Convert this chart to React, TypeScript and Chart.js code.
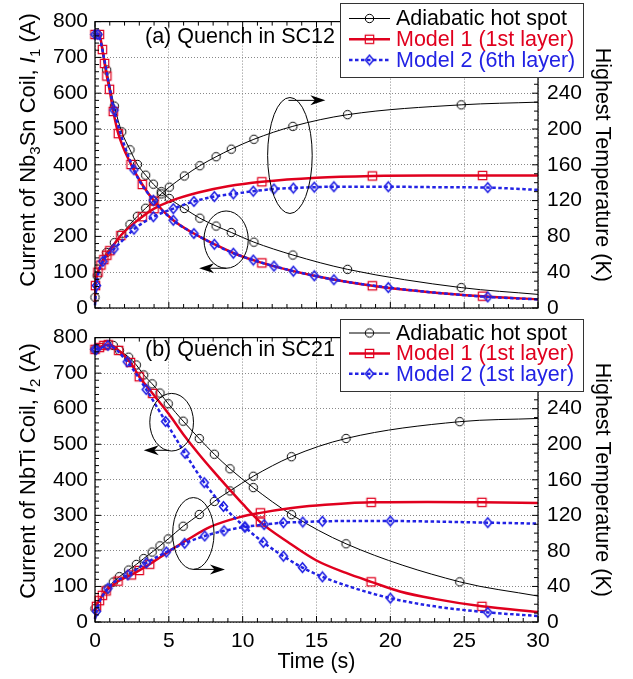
import React, { useEffect, useRef } from 'react';
import { Chart, registerables } from 'chart.js';
Chart.register(...registerables);

const FONT = '"Liberation Sans", Arial, Helvetica, sans-serif';
const RED = '#e0001e';
const BLUE = '#2222e4';

// ---------- axes ----------
const TIME_MAX = 30, TIME_STEP = 5, TIME_MINOR = 1;
const CUR_MAX = 800, CUR_STEP = 100, CUR_MINOR = 20;
const TEMP_MAX = 320, TEMP_STEP = 40, TEMP_MINOR = 10, TEMP_LABEL_MAX = 240;

// ---------- panel (a): quench in SC12 ----------
const aHotCurT = [0, 0.15, 0.45, 0.79, 1.31, 1.81, 2.37, 2.87, 3.43, 3.95, 4.49, 5.03, 6.05, 7.1, 8.2, 9.23, 10.76, 13.4, 17.1, 24.8, 30];
const aHotCurI = [765, 764, 740, 665, 564, 492, 442, 401, 371, 346, 325, 306, 278, 251, 229, 211, 184, 148, 108, 57, 38];
const aHotCurM = [0, 1, 0, 1, 1, 1, 1, 1, 1, 1, 1, 1, 1, 1, 1, 1, 1, 1, 1, 1, 0];

const aHotTmpT = [0, 0.15, 0.45, 0.79, 1.31, 1.81, 2.37, 2.87, 3.43, 3.95, 4.49, 5.03, 6.05, 7.1, 8.2, 9.23, 10.76, 13.4, 17.1, 24.8, 30];
const aHotTmpK = [12, 36, 52, 62, 73, 83, 93.5, 102.5, 111.5, 119.5, 127.5, 135, 147.5, 159, 169, 177.5, 188.5, 203, 216, 227, 230];
const aHotTmpM = [1, 1, 0, 1, 1, 1, 1, 1, 1, 1, 1, 1, 1, 1, 1, 1, 1, 1, 1, 1, 0];

const aM1CurT = [0, 0.3, 0.5, 0.65, 0.8, 0.98, 1.24, 1.58, 2.44, 3.2, 4.0, 5.3, 6.7, 8.1, 9.4, 11.3, 14.85, 18.78, 22.5, 26.25, 30];
const aM1CurI = [764, 764, 722, 683, 648, 611, 549, 487, 401, 345, 299, 245, 208, 178, 153, 126, 90, 62, 45, 33, 24];
const aM1CurM = [1, 1, 1, 1, 1, 1, 1, 1, 1, 1, 1, 0, 0, 0, 0, 1, 0, 1, 0, 1, 0];

const aM1TmpT = [0, 0.03, 0.2, 0.4, 0.6, 0.8, 1.0, 1.75, 3.2, 4.0, 5.2, 7.0, 9.0, 11.3, 15.0, 18.78, 22.5, 26.25, 30];
const aM1TmpK = [6, 25, 40, 48, 54, 59, 64, 81, 102, 111, 120, 129, 136, 141, 145.5, 147.5, 148, 148, 148];
const aM1TmpM = [0, 1, 1, 1, 1, 1, 1, 1, 1, 1, 0, 0, 0, 1, 0, 1, 0, 1, 0];

const aM2CurT = [0, 0.2, 0.6, 1.29, 2.64, 3.95, 5.3, 6.7, 8.08, 9.37, 10.72, 12.12, 13.43, 14.85, 16.18, 19.86, 23, 26.6, 30];
const aM2CurI = [764, 764, 700, 553, 386, 301, 245, 208, 178, 153, 134, 117, 103, 90, 79, 57, 43, 31, 24];
const aM2CurM = [1, 1, 0, 1, 1, 1, 1, 1, 1, 1, 1, 1, 1, 1, 1, 1, 0, 1, 0];

const aM2TmpT = [0, 0.1, 0.53, 1.29, 1.9, 2.64, 3.95, 5.3, 6.7, 8.08, 9.37, 10.72, 12.12, 13.43, 14.85, 16.18, 19.86, 23, 26.6, 30];
const aM2TmpK = [3, 25, 52, 66, 76, 88, 102, 111, 119, 124.5, 127.5, 130.5, 133, 134, 135, 135.5, 135.5, 135, 134.5, 132];
const aM2TmpM = [0, 1, 1, 1, 0, 1, 1, 1, 1, 1, 1, 1, 1, 1, 1, 1, 1, 0, 1, 0];

// ---------- panel (b): quench in SC21 ----------
const bHotCurT = [0, 0.79, 1.24, 1.65, 2.28, 2.8, 3.3, 3.87, 4.4, 4.96, 5.97, 7.06, 8.08, 9.14, 10.72, 13.3, 17.0, 24.7, 30];
const bHotCurI = [767, 780, 778, 764, 745, 723, 695, 670, 644, 614, 565, 516, 472, 431, 378, 302, 220, 113, 73];
const bHotCurM = [1, 1, 1, 1, 1, 1, 1, 1, 1, 1, 1, 1, 1, 1, 1, 1, 1, 1, 0];

const bHotTmpT = [0, 0.79, 1.24, 1.65, 2.28, 2.8, 3.3, 3.87, 4.4, 4.96, 5.97, 7.06, 8.08, 9.14, 10.72, 13.3, 17.0, 24.7, 30];
const bHotTmpK = [15, 37, 45, 51, 58.5, 64.8, 71.4, 78.7, 85.7, 93.5, 107.8, 121, 135.7, 147.5, 164, 186, 206.5, 225.4, 229];
const bHotTmpM = [1, 1, 1, 1, 1, 1, 1, 1, 1, 1, 1, 1, 1, 1, 1, 1, 1, 1, 0];

const bM1CurT = [0, 0.3, 0.6, 0.9, 1.6, 2.4, 3.0, 3.9, 5.0, 6.0, 7.0, 8.0, 9.0, 10.0, 11.2, 13.2, 15.0, 17.0, 18.7, 20.65, 23, 26.2, 30];
const bM1CurI = [767, 772, 778, 780, 764, 730, 690, 643, 585, 527, 474, 425, 378, 332, 281, 221, 173, 138, 113, 86, 65, 44, 28];
const bM1CurM = [1, 1, 1, 1, 1, 1, 1, 1, 0, 0, 0, 0, 0, 0, 1, 0, 0, 0, 1, 0, 0, 1, 0];

const bM1TmpT = [0, 0.1, 0.3, 0.5, 0.75, 1.56, 2.46, 3.0, 3.7, 5.0, 6.4, 7.8, 9.8, 11.2, 13.2, 15.0, 18.7, 22.5, 26.2, 30];
const bM1TmpK = [4, 17.6, 24, 30, 35, 46, 53, 58, 65, 79.5, 94, 107, 118, 122.8, 128, 131, 134.6, 135, 134.6, 134];
const bM1TmpM = [0, 1, 1, 1, 1, 1, 1, 1, 1, 0, 0, 0, 0, 1, 0, 0, 1, 0, 1, 0];

const bM2CurT = [0, 0.1, 0.88, 2.18, 3.47, 4.78, 6.1, 7.4, 8.7, 10.15, 11.4, 12.76, 14.05, 15.4, 17.5, 20.0, 23, 26.6, 30];
const bM2CurI = [767, 767, 778, 732, 654, 564, 474, 392, 325, 267, 224, 185, 153, 127, 96, 67, 44, 27, 17];
const bM2CurM = [1, 1, 1, 1, 1, 1, 1, 1, 1, 1, 1, 1, 1, 1, 0, 1, 0, 1, 0];

const bM2TmpT = [0, 0.1, 0.88, 2.23, 3.48, 4.83, 6.07, 7.43, 8.74, 10.15, 11.45, 12.76, 14.07, 15.4, 17.5, 20.0, 23, 26.6, 30];
const bM2TmpK = [3, 12, 38, 53, 66.5, 78.7, 88.6, 96.8, 102.6, 107, 109.6, 111.8, 112.5, 113.3, 113.6, 113.6, 113, 111.8, 110.7];
const bM2TmpM = [0, 1, 1, 1, 1, 1, 1, 1, 1, 1, 1, 1, 1, 1, 0, 1, 0, 1, 0];

// ---------- labels ----------
const aLegend = ['Adiabatic hot spot', 'Model 1 (1st layer)', 'Model 2 (6th layer)'];
const bLegend = ['Adiabatic hot spot', 'Model 1 (1st layer)', 'Model 2 (1st layer)'];
const aTitle = '(a) Quench in SC12';
const bTitle = '(b) Quench in SC21';
const aYTitle = [{ t: 'Current of Nb' }, { t: '3', sub: true }, { t: 'Sn Coil, ' }, { t: 'I', it: true }, { t: '1', sub: true }, { t: ' (A)' }];
const bYTitle = [{ t: 'Current of NbTi Coil, ' }, { t: 'I', it: true }, { t: '2', sub: true }, { t: ' (A)' }];
const xTitle = 'Time (s)';
const y2Title = 'Highest Temperature (K)';

// annotation ellipses (time, current) and arrows (from -> to), in data units
const aEllipses = [{ t: 13.2, v: 426, rt: 1.51, rv: 162 }, { t: 8.88, v: 191, rt: 1.5, rv: 80 }];
const aArrows = [{ t0: 13.1, v0: 580, t1: 15.6, v1: 580 }, { t0: 8.9, v0: 111, t1: 7.05, v1: 111 }];
const bEllipses = [{ t: 5.19, v: 562, rt: 1.48, rv: 81 }, { t: 6.66, v: 249, rt: 1.4, rv: 101 }];
const bArrows = [{ t0: 5.0, v0: 483, t1: 3.3, v1: 483 }, { t0: 6.66, v0: 148, t1: 8.8, v1: 148 }];

// ---------- layout ----------
const W = 633;
const PLOT_L = 95;
const PLOT_R = 538;

type Kind = 'hot' | 'm1' | 'm2';
const STYLE: Record<Kind, { color: string; width: number; dash: number[]; order: number }> = {
  hot: { color: '#000', width: 1, dash: [], order: 3 },
  m1: { color: RED, width: 2.5, dash: [], order: 2 },
  m2: { color: BLUE, width: 2.5, dash: [3.5, 2.5], order: 1 },
};

function makeMarker(kind: Kind): HTMLCanvasElement {
  const c = document.createElement('canvas');
  c.width = 13; c.height = 13;
  const g = c.getContext('2d')!;
  g.translate(6.5, 6.5);
  g.beginPath();
  if (kind === 'hot') {
    g.arc(0, 0, 4.2, 0, Math.PI * 2);
    g.strokeStyle = '#000'; g.lineWidth = 1;
  } else if (kind === 'm1') {
    g.rect(-4.2, -4.2, 8.4, 8.4);
    g.strokeStyle = RED; g.lineWidth = 1.2;
  } else {
    g.moveTo(0, -4.8); g.lineTo(4, 0); g.lineTo(0, 4.8); g.lineTo(-4, 0); g.closePath();
    g.strokeStyle = BLUE; g.lineWidth = 1.6;
  }
  g.stroke();
  return c;
}

type Series = { kind: Kind; axis: 'y' | 'y2'; t: number[]; v: number[]; m: number[] };

const aSeries: Series[] = [
  { kind: 'hot', axis: 'y', t: aHotCurT, v: aHotCurI, m: aHotCurM },
  { kind: 'hot', axis: 'y2', t: aHotTmpT, v: aHotTmpK, m: aHotTmpM },
  { kind: 'm1', axis: 'y', t: aM1CurT, v: aM1CurI, m: aM1CurM },
  { kind: 'm1', axis: 'y2', t: aM1TmpT, v: aM1TmpK, m: aM1TmpM },
  { kind: 'm2', axis: 'y', t: aM2CurT, v: aM2CurI, m: aM2CurM },
  { kind: 'm2', axis: 'y2', t: aM2TmpT, v: aM2TmpK, m: aM2TmpM },
];
const bSeries: Series[] = [
  { kind: 'hot', axis: 'y', t: bHotCurT, v: bHotCurI, m: bHotCurM },
  { kind: 'hot', axis: 'y2', t: bHotTmpT, v: bHotTmpK, m: bHotTmpM },
  { kind: 'm1', axis: 'y', t: bM1CurT, v: bM1CurI, m: bM1CurM },
  { kind: 'm1', axis: 'y2', t: bM1TmpT, v: bM1TmpK, m: bM1TmpM },
  { kind: 'm2', axis: 'y', t: bM2CurT, v: bM2CurI, m: bM2CurM },
  { kind: 'm2', axis: 'y2', t: bM2TmpT, v: bM2TmpK, m: bM2TmpM },
];

const decoPlugin = {
  id: 'deco',
  afterDraw(chart: any, _args: any, o: any) {
    const { ctx, chartArea: a, scales } = chart;
    const x = scales.x, y = scales.y, y2 = scales.y2;
    ctx.save();
    // frame
    ctx.setLineDash([]);
    ctx.strokeStyle = '#000';
    ctx.lineWidth = 1.2;
    ctx.strokeRect(a.left, a.top, a.right - a.left, a.bottom - a.top);
    // inward ticks
    ctx.lineWidth = 1;
    ctx.beginPath();
    for (let t = 0; t <= TIME_MAX; t += TIME_MINOR) {
      const px = x.getPixelForValue(t);
      const L = t % TIME_STEP === 0 ? 6 : 4;
      ctx.moveTo(px, a.bottom); ctx.lineTo(px, a.bottom - L);
      ctx.moveTo(px, a.top); ctx.lineTo(px, a.top + L);
    }
    for (let v = 0; v <= CUR_MAX; v += CUR_MINOR) {
      const py = y.getPixelForValue(v);
      const L = v % CUR_STEP === 0 ? 6 : 4;
      ctx.moveTo(a.left, py); ctx.lineTo(a.left + L, py);
    }
    for (let v = 0; v <= TEMP_MAX; v += TEMP_MINOR) {
      const py = y2.getPixelForValue(v);
      const L = v % TEMP_STEP === 0 ? 6 : 4;
      ctx.moveTo(a.right, py); ctx.lineTo(a.right - L, py);
    }
    ctx.stroke();

    // ellipses
    ctx.lineWidth = 1;
    for (const e of o.ellipses) {
      const cx = x.getPixelForValue(e.t), cy = y.getPixelForValue(e.v);
      const rx = Math.abs(x.getPixelForValue(e.t + e.rt) - cx);
      const ry = Math.abs(y.getPixelForValue(e.v + e.rv) - cy);
      ctx.beginPath();
      ctx.ellipse(cx, cy, rx, ry, 0, 0, Math.PI * 2);
      ctx.stroke();
    }
    // arrows
    for (const r of o.arrows) {
      const x0 = x.getPixelForValue(r.t0), y0 = y.getPixelForValue(r.v0);
      const x1 = x.getPixelForValue(r.t1), y1 = y.getPixelForValue(r.v1);
      const len = Math.hypot(x1 - x0, y1 - y0);
      const dx = (x1 - x0) / len, dy = (y1 - y0) / len;
      ctx.beginPath();
      ctx.moveTo(x0, y0); ctx.lineTo(x1 - dx * 8, y1 - dy * 8);
      ctx.stroke();
      const px = -dy, py = dx;
      ctx.beginPath();
      ctx.moveTo(x1, y1);
      ctx.lineTo(x1 - dx * 15 + px * 5, y1 - dy * 15 + py * 5);
      ctx.lineTo(x1 - dx * 10.5, y1 - dy * 10.5);
      ctx.lineTo(x1 - dx * 15 - px * 5, y1 - dy * 15 - py * 5);
      ctx.closePath();
      ctx.fillStyle = '#000';
      ctx.fill();
    }

    // panel label
    ctx.fillStyle = '#000';
    ctx.font = `21.5px ${FONT}`;
    ctx.textAlign = 'left';
    ctx.textBaseline = 'alphabetic';
    ctx.fillText(o.label, o.labelX, o.labelY);

    // left axis title with subscripts
    ctx.save();
    ctx.translate(o.yTitleX, o.yTitleY);
    ctx.rotate(-Math.PI / 2);
    const fontOf = (s: any) => `${s.it ? 'italic ' : ''}${s.sub ? 15 : 22}px ${FONT}`;
    let total = 0;
    for (const s of o.yTitle) { ctx.font = fontOf(s); total += ctx.measureText(s.t).width; }
    let tx = -total / 2;
    for (const s of o.yTitle) {
      ctx.font = fontOf(s);
      ctx.fillText(s.t, tx, 8 + (s.sub ? 5 : 0));
      tx += ctx.measureText(s.t).width;
    }
    ctx.restore();

    // legend
    const L = o.legend;
    ctx.setLineDash([]);
    ctx.fillStyle = '#fff';
    ctx.fillRect(L.x, L.y, L.w, L.h);
    ctx.strokeStyle = '#333';
    ctx.lineWidth = 1;
    ctx.strokeRect(L.x + 0.5, L.y + 0.5, L.w, L.h);
    const kinds: Kind[] = ['hot', 'm1', 'm2'];
    kinds.forEach((k, i) => {
      const st = STYLE[k];
      const ry = L.rows[i];
      ctx.beginPath();
      ctx.strokeStyle = st.color;
      ctx.lineWidth = k === 'hot' ? 1 : st.width;
      ctx.setLineDash(st.dash);
      ctx.moveTo(L.x + 9, ry); ctx.lineTo(L.x + 50, ry);
      ctx.stroke();
      ctx.setLineDash([]);
      const mk = o.markers[k];
      ctx.drawImage(mk, L.x + 29.5 - mk.width / 2, ry - mk.height / 2);
      ctx.fillStyle = st.color;
      ctx.font = `21.5px ${FONT}`;
      ctx.textBaseline = 'middle';
      ctx.fillText(L.labels[i], L.x + 56, ry + 1);
    });
    ctx.restore();
  },
};

function buildConfig(series: Series[], markers: Record<Kind, HTMLCanvasElement>, deco: any,
  showX: boolean, canvasH: number, plotTop: number, plotBottom: number): any {
  const datasets = series.map((s) => {
    const st = STYLE[s.kind];
    return {
      data: s.t.map((t, i) => ({ x: t, y: s.v[i] })),
      yAxisID: s.axis,
      borderColor: st.color,
      backgroundColor: st.color,
      borderWidth: st.width,
      borderDash: st.dash,
      cubicInterpolationMode: 'monotone',
      fill: false,
      order: st.order,
      pointStyle: markers[s.kind],
      pointRadius: (c: any) => (s.m[c.dataIndex] ? 5 : 0),
      pointHoverRadius: 0,
      clip: 8,
    };
  });
  const tickFont = { family: FONT, size: 21 };
  return {
    type: 'line',
    data: { datasets },
    options: {
      responsive: false,
      devicePixelRatio: 1,
      animation: false,
      events: [],
      layout: { padding: { top: plotTop, left: 0, right: 0, bottom: 0 } },
      plugins: { legend: { display: false }, tooltip: { enabled: false }, deco },
      scales: {
        x: {
          type: 'linear', min: 0, max: TIME_MAX,
          ticks: { stepSize: TIME_STEP, display: showX, color: '#000', font: tickFont, padding: 7, maxRotation: 0, autoSkip: false },
          grid: { color: '#888', lineWidth: 1, drawTicks: false },
          border: { display: false, dash: [1, 2] },
          title: { display: showX, text: xTitle, color: '#000', font: { family: FONT, size: 21.5 }, padding: { top: 0, bottom: 4 } },
          afterFit: (sc: any) => { sc.height = canvasH - plotBottom; },
        },
        y: {
          type: 'linear', position: 'left', min: 0, max: CUR_MAX,
          ticks: { stepSize: CUR_STEP, color: '#000', font: tickFont, padding: 7 },
          grid: { color: '#888', lineWidth: 1, drawTicks: false },
          border: { display: false, dash: [1, 2] },
          afterFit: (sc: any) => { sc.width = PLOT_L; },
        },
        y2: {
          type: 'linear', position: 'right', min: 0, max: TEMP_MAX,
          ticks: { stepSize: TEMP_STEP, color: '#000', font: tickFont, padding: 9,
            callback: (v: number) => (v <= TEMP_LABEL_MAX ? String(v) : '') },
          grid: { display: false, drawTicks: false },
          border: { display: false },
          title: { display: true, text: y2Title, color: '#000', font: { family: FONT, size: 21.5 }, padding: { top: 18, bottom: 0 } },
          afterFit: (sc: any) => { sc.width = W - PLOT_R; },
        },
      },
    },
    plugins: [decoPlugin],
  };
}

export default function App() {
  const refA = useRef<HTMLCanvasElement>(null);
  const refB = useRef<HTMLCanvasElement>(null);
  useEffect(() => {
    const markers = { hot: makeMarker('hot'), m1: makeMarker('m1'), m2: makeMarker('m2') };
    const decoA = {
      markers, ellipses: aEllipses, arrows: aArrows,
      label: aTitle, labelX: 145, labelY: 43,
      yTitle: aYTitle, yTitleX: 27, yTitleY: 150,
      legend: { x: 340, y: 3, w: 243, h: 74, rows: [18.5, 39.3, 60], labels: aLegend },
    };
    const decoB = {
      markers, ellipses: bEllipses, arrows: bArrows,
      label: bTitle, labelX: 145, labelY: 40,
      yTitle: bYTitle, yTitleX: 27, yTitleY: 155,
      legend: { x: 340, y: 3, w: 243, h: 72, rows: [17, 37.5, 57.8], labels: bLegend },
    };
    const cA = new Chart(refA.current!, buildConfig(aSeries, markers, decoA, false, 350, 17.5, 308));
    const cB = new Chart(refB.current!, buildConfig(bSeries, markers, decoB, true, 363, 16, 306));
    return () => { cA.destroy(); cB.destroy(); };
  }, []);
  return (
    <div style={{ position: 'absolute', left: 0, top: 0, width: W, height: 679, background: '#fff', overflow: 'hidden' }}>
      <canvas ref={refA} width={W} height={350} style={{ position: 'absolute', left: 0, top: 0, width: W, height: 350 }} />
      <canvas ref={refB} width={W} height={363} style={{ position: 'absolute', left: 0, top: 316, width: W, height: 363 }} />
    </div>
  );
}
